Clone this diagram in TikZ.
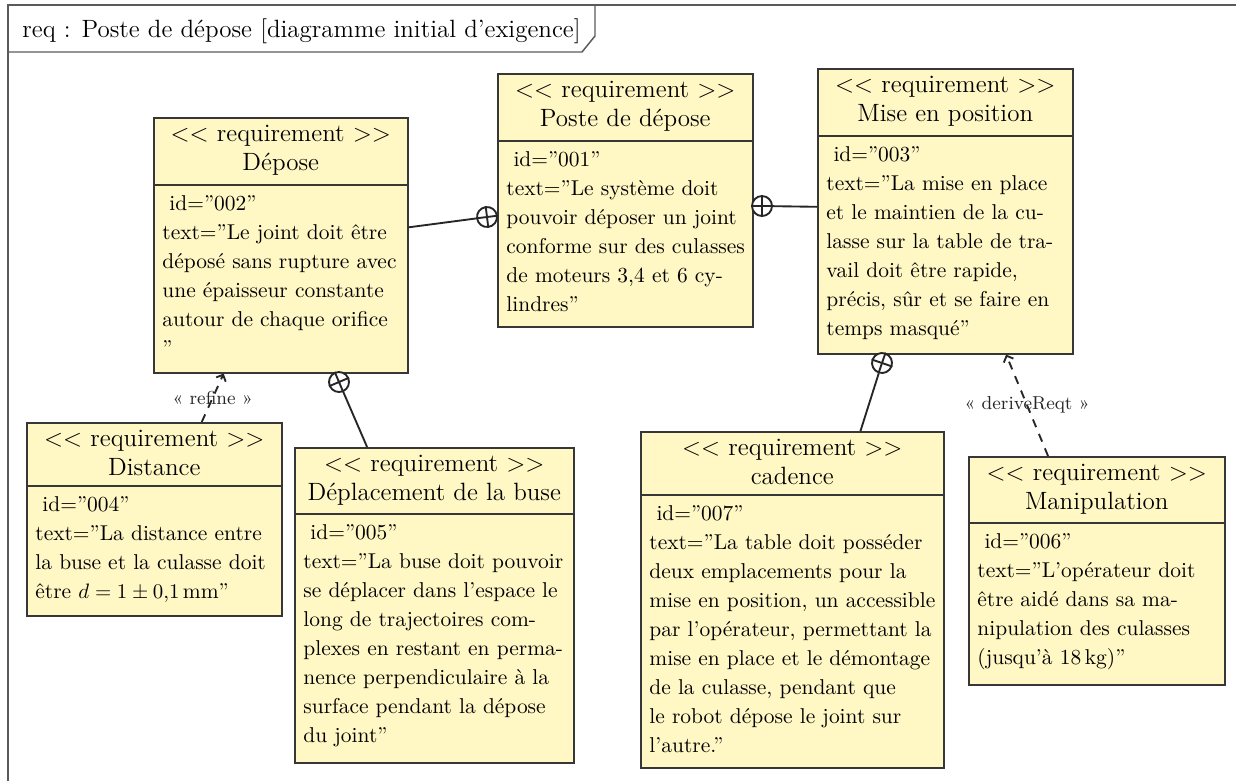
\documentclass[tikz,border=0pt]{standalone}
\usepackage{fontspec}
\usetikzlibrary{arrows.meta,calc}
\definecolor{reqfill}{RGB}{255,247,196}
\definecolor{reqdraw}{RGB}{55,55,55}
\definecolor{framegray}{RGB}{90,90,90}
\tikzset{
  reqbox/.style={draw=reqdraw, fill=reqfill, line width=0.75pt, rectangle, inner sep=0pt},
  reqline/.style={draw=reqdraw, line width=0.75pt},
  reqhead/.style={align=center, inner sep=0pt, font=\large},
  reqbody/.style={align=left, inner sep=0pt, font=\fontsize{10.3}{13.9}\selectfont},
  conn/.style={line width=0.9pt, black!85},
  containc/.style={circle, draw=black!85, line width=0.9pt, minimum size=9.6pt, inner sep=0pt, fill=white},
  depend/.style={line width=0.9pt, black!85, dash pattern=on 4pt off 3.5pt, -{Straight Barb[length=2.5pt,width=5pt]}},
  deplabel/.style={font=\small, inner sep=0pt},
  framestyle/.style={draw=framegray, line width=0.7pt}
}
\newcommand{\reqblock}[8]{%
  \node[reqbox, minimum width=#4*0.48pt, minimum height=#5*0.48pt, anchor=north west] (#1) at (#2,#3) {};
  \draw[reqline] ($(#1.north west)+(0,#6)$) -- ($(#1.north east)+(0,#6)$);
  \node[reqhead, anchor=north] (#1-head) at ($(#1.north)+(0,3.5)$) {\strut$<<$ requirement $>>$\\\strut #7};
  \node[reqbody, anchor=north west] (#1-body) at ($(#1.north west)+(9,#6+5)$) {#8};
}
\newcommand{\containat}[4]{%
  \node[containc, rotate=#4] (#1) at (#2,#3) {};
  \draw[conn] (#1.north) -- (#1.south) (#1.east) -- (#1.west);
}
\begin{document}
\begin{tikzpicture}[x=0.48pt, y=-0.48pt]
\useasboundingbox (0,0) rectangle (1236,781);
% frame
\draw[framestyle] (8,781) -- (8,5) -- (1236,5);
\draw[framestyle] (8,52) -- (582,52) -- (595,36) -- (595,5);
\node[anchor=west, font=\large, inner sep=0pt] (title) at (22,31) {req : Poste de dépose [diagramme initial d’exigence]};

\reqblock{depose}{153}{117}{254}{255}{68}{Dépose}{\strut\hspace*{0.33em}id=”002”\\
text=”Le joint doit être\\
déposé sans rupture avec\\
une épaisseur constante\\
autour de chaque orifice\\
”}

\reqblock{poste}{497}{73}{255}{253}{68}{Poste de dépose}{\strut\hspace*{0.33em}id=”001”\\
text=”Le système doit\\
pouvoir déposer un joint\\
conforme sur des culasses\\
de moteurs 3,4 et 6 cy-\\
lindres”}

\reqblock{mise}{817}{68}{255}{285}{68}{Mise en position}{\strut\hspace*{0.33em}id=”003”\\
text=”La mise en place\\
et le maintien de la cu-\\
lasse sur la table de tra-\\
vail doit être rapide,\\
précis, sûr et se faire en\\
temps masqué”}

\reqblock{distance}{26}{422}{255}{193}{64}{Distance}{\strut\hspace*{0.33em}id=”004”\\
text=”La distance entre\\
la buse et la culasse doit\\
être $d = 1\pm 0{,}1\,\mathrm{mm}$”}

\reqblock{deplacement}{294}{447}{279}{315}{67}{Déplacement de la buse}{\strut\hspace*{0.33em}id=”005”\\
text=”La buse doit pouvoir\\
se déplacer dans l’espace le\\
long de trajectoires com-\\
plexes en restant en perma-\\
nence perpendiculaire à la\\
surface pendant la dépose\\
du joint”}

\reqblock{cadence}{640}{431}{303}{336}{64}{cadence}{\strut\hspace*{0.33em}id=”007”\\
text=”La table doit posséder\\
deux emplacements pour la\\
mise en position, un accessible\\
par l’opérateur, permettant la\\
mise en place et le démontage\\
de la culasse, pendant que\\
le robot dépose le joint sur\\
l’autre.”}

\reqblock{manip}{968}{456}{256}{228}{67}{Manipulation}{\strut\hspace*{0.33em}id=”006”\\
text=”L’opérateur doit\\
être aidé dans sa ma-\\
nipulation des culasses\\
(jusqu’à 18\,kg)”}

% containment links
\containat{k1}{487}{217}{7}
\draw[conn] (depose.8) -- (k1);
\containat{k2}{762}{206}{0}
\draw[conn] (mise.178) -- (k2);
\containat{k3}{339}{382}{-67}
\draw[conn] (deplacement.113) -- (k3);
\containat{k4}{882}{363}{-109}
\draw[conn] (cadence.68) -- (k4);

% dependencies
\draw[depend] (distance.64) -- node[deplabel] (lref) {« refine »} (depose.-114);
\draw[depend] (manip.113) -- node[deplabel] (lder) {« deriveReqt »} (mise.-67);
\end{tikzpicture}
\end{document}
